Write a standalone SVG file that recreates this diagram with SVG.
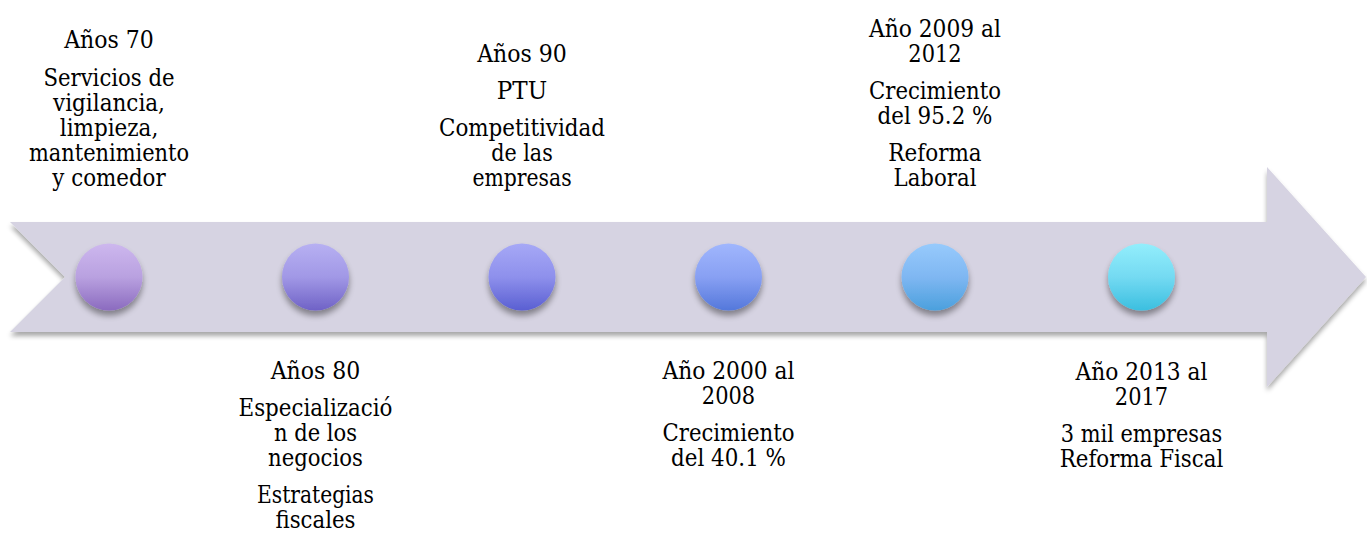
<svg xmlns="http://www.w3.org/2000/svg" width="1367" height="533" viewBox="0 0 1367 533">
<defs>
<filter id="sh" x="-10%" y="-30%" width="120%" height="160%">
<feGaussianBlur in="SourceAlpha" stdDeviation="2.5"/>
<feOffset dx="0" dy="4" result="b"/>
<feComponentTransfer><feFuncA type="linear" slope="0.35"/></feComponentTransfer>
<feMerge><feMergeNode/><feMergeNode in="SourceGraphic"/></feMerge>
</filter>
<filter id="csh" x="-40%" y="-40%" width="180%" height="180%">
<feGaussianBlur in="SourceAlpha" stdDeviation="3"/>
<feOffset dx="0" dy="5" result="b"/>
<feComponentTransfer><feFuncA type="linear" slope="0.4"/></feComponentTransfer>
<feMerge><feMergeNode/><feMergeNode in="SourceGraphic"/></feMerge>
</filter>
<linearGradient id="g1" x1="0" y1="0" x2="0" y2="1"><stop offset="0" stop-color="#cdb7ee"/><stop offset="0.5" stop-color="#b9a1e0"/><stop offset="1" stop-color="#8b6bbf"/></linearGradient>
<linearGradient id="g2" x1="0" y1="0" x2="0" y2="1"><stop offset="0" stop-color="#b7b0f2"/><stop offset="0.5" stop-color="#a198e6"/><stop offset="1" stop-color="#6f62c6"/></linearGradient>
<linearGradient id="g3" x1="0" y1="0" x2="0" y2="1"><stop offset="0" stop-color="#a6a8f6"/><stop offset="0.5" stop-color="#8e90ec"/><stop offset="1" stop-color="#5a5fd2"/></linearGradient>
<linearGradient id="g4" x1="0" y1="0" x2="0" y2="1"><stop offset="0" stop-color="#a0b6fd"/><stop offset="0.5" stop-color="#88a0f3"/><stop offset="1" stop-color="#5478db"/></linearGradient>
<linearGradient id="g5" x1="0" y1="0" x2="0" y2="1"><stop offset="0" stop-color="#97cafc"/><stop offset="0.5" stop-color="#7fb7f2"/><stop offset="1" stop-color="#4ba0dd"/></linearGradient>
<linearGradient id="g6" x1="0" y1="0" x2="0" y2="1"><stop offset="0" stop-color="#93eefc"/><stop offset="0.5" stop-color="#74daf2"/><stop offset="1" stop-color="#3bbfe0"/></linearGradient>
</defs>
<style>
.t text{font-size:24px;fill:#000;text-anchor:middle}
.dot{filter:url(#csh)}
</style>
<g id="arrow">
<polygon points="10,222 1267,222 1267,167 1366,277 1267,387 1267,332 10,332 65,277" fill="#d6d3e2" filter="url(#sh)"/>
</g>
<g id="connectors"></g>
<g id="n1" class="t" font-family="'DejaVu Serif Condensed', 'DejaVu Serif', 'Liberation Serif', serif">
<circle class="dot" cx="109" cy="277" r="33.5" fill="url(#g1)"/>
<text x="109" y="48" textLength="89.6" lengthAdjust="spacingAndGlyphs">Años 70</text>
<text x="109" y="86" textLength="131.1" lengthAdjust="spacingAndGlyphs">Servicios de</text>
<text x="109" y="111" textLength="111.9" lengthAdjust="spacingAndGlyphs">vigilancia,</text>
<text x="109" y="136" textLength="98.5" lengthAdjust="spacingAndGlyphs">limpieza,</text>
<text x="109" y="161" textLength="160" lengthAdjust="spacingAndGlyphs">mantenimiento</text>
<text x="109" y="186" textLength="113.3" lengthAdjust="spacingAndGlyphs">y comedor</text>
</g>
<g id="n2" class="t" font-family="'DejaVu Serif Condensed', 'DejaVu Serif', 'Liberation Serif', serif">
<circle class="dot" cx="315.5" cy="277" r="33.5" fill="url(#g2)"/>
<text x="315.5" y="379" textLength="89.6" lengthAdjust="spacingAndGlyphs">Años 80</text>
<text x="315.5" y="416" textLength="154" lengthAdjust="spacingAndGlyphs">Especializació</text>
<text x="315.5" y="441" textLength="83" lengthAdjust="spacingAndGlyphs">n de los</text>
<text x="315.5" y="466" textLength="94.8" lengthAdjust="spacingAndGlyphs">negocios</text>
<text x="315.5" y="503" textLength="117" lengthAdjust="spacingAndGlyphs">Estrategias</text>
<text x="315.5" y="528" textLength="80" lengthAdjust="spacingAndGlyphs">fiscales</text>
</g>
<g id="n3" class="t" font-family="'DejaVu Serif Condensed', 'DejaVu Serif', 'Liberation Serif', serif">
<circle class="dot" cx="522" cy="277" r="33.5" fill="url(#g3)"/>
<text x="522" y="62" textLength="89.6" lengthAdjust="spacingAndGlyphs">Años 90</text>
<text x="522" y="99" textLength="50.4" lengthAdjust="spacingAndGlyphs">PTU</text>
<text x="522" y="136" textLength="166" lengthAdjust="spacingAndGlyphs">Competitividad</text>
<text x="522" y="161" textLength="61.5" lengthAdjust="spacingAndGlyphs">de las</text>
<text x="522" y="186" textLength="99.2" lengthAdjust="spacingAndGlyphs">empresas</text>
</g>
<g id="n4" class="t" font-family="'DejaVu Serif Condensed', 'DejaVu Serif', 'Liberation Serif', serif">
<circle class="dot" cx="728.5" cy="277" r="33.5" fill="url(#g4)"/>
<text x="728.5" y="379" textLength="131.9" lengthAdjust="spacingAndGlyphs">Año 2000 al</text>
<text x="728.5" y="404" textLength="53.3" lengthAdjust="spacingAndGlyphs">2008</text>
<text x="728.5" y="441" textLength="131.9" lengthAdjust="spacingAndGlyphs">Crecimiento</text>
<text x="728.5" y="466" textLength="114.8" lengthAdjust="spacingAndGlyphs">del 40.1 %</text>
</g>
<g id="n5" class="t" font-family="'DejaVu Serif Condensed', 'DejaVu Serif', 'Liberation Serif', serif">
<circle class="dot" cx="935" cy="277" r="33.5" fill="url(#g5)"/>
<text x="935" y="37" textLength="131.9" lengthAdjust="spacingAndGlyphs">Año 2009 al</text>
<text x="935" y="62" textLength="53.3" lengthAdjust="spacingAndGlyphs">2012</text>
<text x="935" y="99" textLength="131.9" lengthAdjust="spacingAndGlyphs">Crecimiento</text>
<text x="935" y="124" textLength="114.8" lengthAdjust="spacingAndGlyphs">del 95.2 %</text>
<text x="935" y="161" textLength="93.3" lengthAdjust="spacingAndGlyphs">Reforma</text>
<text x="935" y="186" textLength="82.9" lengthAdjust="spacingAndGlyphs">Laboral</text>
</g>
<g id="n6" class="t" font-family="'DejaVu Serif Condensed', 'DejaVu Serif', 'Liberation Serif', serif">
<circle class="dot" cx="1141.5" cy="277" r="33.5" fill="url(#g6)"/>
<text x="1141.5" y="380" textLength="131.9" lengthAdjust="spacingAndGlyphs">Año 2013 al</text>
<text x="1141.5" y="405" textLength="53.3" lengthAdjust="spacingAndGlyphs">2017</text>
<text x="1141.5" y="442" textLength="161.5" lengthAdjust="spacingAndGlyphs">3 mil empresas</text>
<text x="1141.5" y="467" textLength="163.7" lengthAdjust="spacingAndGlyphs">Reforma Fiscal</text>
</g>
</svg>
